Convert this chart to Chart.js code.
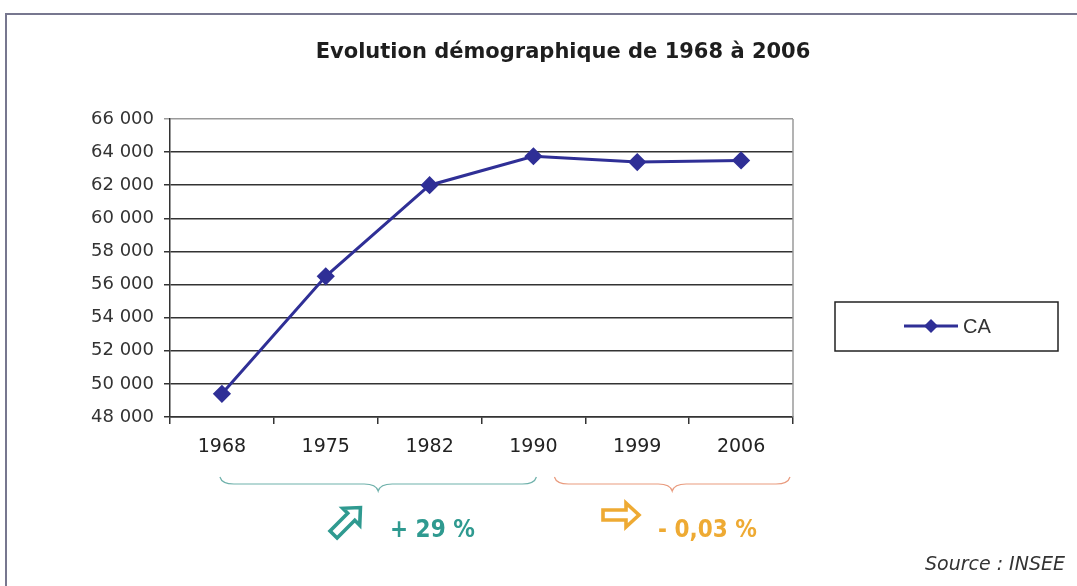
<!DOCTYPE html>
<html lang="fr">
<head>
  <meta charset="UTF-8">
  <title>Evolution démographique de 1968 à 2006</title>
  <script src="https://cdn.jsdelivr.net/npm/chart.js"></script>
  <style>
    html, body {
      margin: 0;
      padding: 0;
      background: #fff;
      overflow: hidden;
    }
    .frame {
      position: absolute;
      left: 5px;
      top: 13px;
      width: 1200px;
      height: 700px;
      border-left: 2px solid #77778f;
      border-top: 2px solid #77778f;
    }
    .wrap {
      position: absolute;
      left: 0;
      top: 0;
      width: 1077px;
      height: 586px;
    }
  </style>
</head>
<body>
  <div class="frame"></div>
  <div class="wrap"><canvas id="demo"></canvas></div>

  <script>
    // population per census year
    const years = ['1968', '1975', '1982', '1990', '1999', '2006'];
    const population = [49400, 56500, 62000, 63750, 63400, 63500];
    const seriesName = 'CA';

    const yMin = 48000;
    const yMax = 66000;
    const yStep = 2000;

    // trend periods, as index ranges into years
    const periodRanges = [[0, 3], [3, 5]];
    const periodLabels = ['+ 29 %', '- 0,03 %'];

    const titleText = 'Evolution démographique de 1968 à 2006';
    const sourceText = 'Source : INSEE';

    const lineColor = '#2f2f96';
    const teal = '#2f9a90';
    const orange = '#eeaa33';

    function fmt(v) {
      return String(v).replace(/\B(?=(\d{3})+(?!\d))/g, ' ');
    }

    // brace under a span of categories
    function brace(ctx, x1, x2, y, color) {
      const mid = (x1 + x2) / 2;
      ctx.save();
      ctx.strokeStyle = color;
      ctx.lineWidth = 1.2;
      ctx.beginPath();
      ctx.moveTo(x1, y - 7);
      ctx.quadraticCurveTo(x1 + 2, y, x1 + 14, y);
      ctx.lineTo(mid - 14, y);
      ctx.quadraticCurveTo(mid - 2, y, mid, y + 7);
      ctx.quadraticCurveTo(mid + 2, y, mid + 14, y);
      ctx.lineTo(x2 - 14, y);
      ctx.quadraticCurveTo(x2 - 2, y, x2, y - 7);
      ctx.stroke();
      ctx.restore();
    }

    // hollow arrow, drawn pointing right then rotated
    function arrow(ctx, cx, cy, angle, len, color) {
      ctx.save();
      ctx.translate(cx, cy);
      ctx.rotate(angle);
      const h = len / 2;
      ctx.beginPath();
      ctx.moveTo(-h, -5);
      ctx.lineTo(h - 13, -5);
      ctx.lineTo(h - 13, -12);
      ctx.lineTo(h, 0);
      ctx.lineTo(h - 13, 12);
      ctx.lineTo(h - 13, 5);
      ctx.lineTo(-h, 5);
      ctx.closePath();
      ctx.fillStyle = '#fff';
      ctx.fill();
      ctx.strokeStyle = color;
      ctx.lineWidth = 3.6;
      ctx.lineJoin = 'miter';
      ctx.stroke();
      ctx.restore();
    }

    const decorations = {
      id: 'decorations',
      beforeDatasetsDraw(chart) {
        const { ctx, chartArea: a } = chart;
        ctx.save();
        ctx.strokeStyle = '#9a9a9a';
        ctx.lineWidth = 1.5;
        ctx.beginPath();
        ctx.moveTo(a.right, a.top);
        ctx.lineTo(a.right, a.bottom);
        ctx.stroke();
        ctx.restore();
      },
      afterDraw(chart) {
        const { ctx, chartArea: a } = chart;
        const x = chart.scales.x;

        ctx.save();
        // title
        ctx.fillStyle = '#1e1e1e';
        ctx.font = 'bold 21px "DejaVu Sans", Verdana, sans-serif';
        ctx.textAlign = 'center';
        ctx.textBaseline = 'middle';
        ctx.fillText(titleText, 563, 53);

        // legend box
        ctx.strokeStyle = '#222';
        ctx.lineWidth = 1.5;
        ctx.strokeRect(835, 302, 223, 49);
        const ds = chart.data.datasets[0];
        ctx.strokeStyle = ds.borderColor;
        ctx.lineWidth = 3;
        ctx.beginPath();
        ctx.moveTo(904, 326);
        ctx.lineTo(958, 326);
        ctx.stroke();
        ctx.fillStyle = ds.borderColor;
        ctx.beginPath();
        ctx.moveTo(931, 319);
        ctx.lineTo(938, 326);
        ctx.lineTo(931, 333);
        ctx.lineTo(924, 326);
        ctx.closePath();
        ctx.fill();
        ctx.fillStyle = '#333';
        ctx.font = '20px "Liberation Sans", Arial, sans-serif';
        ctx.textAlign = 'left';
        ctx.fillText(ds.label, 963, 327);

        // trend braces and labels
        const [r1, r2] = periodRanges;
        const b1a = x.getPixelForValue(r1[0]) - 2;
        const b1b = x.getPixelForValue(r1[1]) + 3;
        const b2a = x.getPixelForValue(r2[0]) + 21;
        const b2b = a.right - 3;
        brace(ctx, b1a, b1b, 484, '#6fb1ab');
        brace(ctx, b2a, b2b, 484, '#e99b7e');

        arrow(ctx, 347, 521, -Math.PI / 4, 38, teal);
        arrow(ctx, 621, 515, 0, 36, orange);

        ctx.font = 'bold 24px "DejaVu Sans Condensed", "Liberation Sans Narrow", sans-serif';
        ctx.textAlign = 'left';
        ctx.fillStyle = teal;
        ctx.fillText(periodLabels[0], 390, 531);
        ctx.fillStyle = orange;
        ctx.fillText(periodLabels[1], 658, 531);

        // source
        ctx.fillStyle = '#333';
        ctx.font = 'italic 19px "DejaVu Sans", Verdana, sans-serif';
        ctx.textAlign = 'right';
        ctx.fillText(sourceText, 1065, 565);
        ctx.restore();
      }
    };

    new Chart(document.getElementById('demo'), {
      type: 'line',
      data: {
        labels: years,
        datasets: [{
          label: seriesName,
          data: population,
          borderColor: lineColor,
          backgroundColor: lineColor,
          borderWidth: 3,
          pointStyle: 'rectRot',
          pointRadius: 7,
          pointHoverRadius: 7,
          pointBackgroundColor: lineColor,
          pointBorderColor: lineColor,
          tension: 0
        }]
      },
      options: {
        responsive: true,
        maintainAspectRatio: false,
        animation: false,
        layout: {
          padding: { top: 119, left: 0, right: 284, bottom: 109 }
        },
        plugins: {
          legend: { display: false },
          title: { display: false },
          tooltip: { enabled: false }
        },
        scales: {
          x: {
            offset: true,
            afterFit: s => { s.height = 60; },
            grid: {
              offset: true,
              drawOnChartArea: false,
              drawTicks: true,
              tickLength: 7,
              color: '#333',
              lineWidth: 1.5
            },
            border: { color: '#333', width: 1.5 },
            ticks: {
              color: '#222',
              padding: 12,
              font: { family: '"DejaVu Sans", Verdana, sans-serif', size: 19 }
            }
          },
          y: {
            min: yMin,
            max: yMax,
            afterFit: s => { s.width = 170; },
            grid: {
              color: c => (c.tick && c.tick.value === yMax ? '#9a9a9a' : '#333'),
              lineWidth: 1.5,
              tickLength: 6
            },
            border: { color: '#333', width: 1.5 },
            ticks: {
              stepSize: yStep,
              color: '#333',
              padding: 10,
              font: { family: '"DejaVu Sans", Verdana, sans-serif', size: 18 },
              callback: v => fmt(v)
            }
          }
        }
      },
      plugins: [decorations]
    });
  </script>
</body>
</html>
